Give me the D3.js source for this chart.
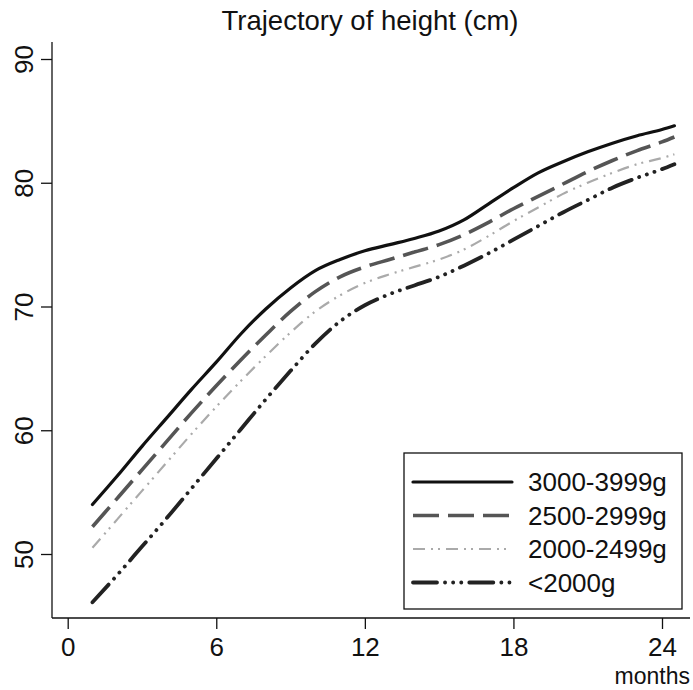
<!DOCTYPE html>
<html>
<head>
<meta charset="utf-8">
<script src="https://cdn.jsdelivr.net/npm/d3@7"></script>
<style>
  body { margin: 0; background: #fff; }
  text { font-family: "Liberation Sans", Arial, sans-serif; fill: #111; }
</style>
</head>
<body>
<svg id="chart" width="693" height="690"></svg>
<script>
// months at which the trajectories are read
var months = [1, 2, 3, 4, 5, 6, 7, 8, 9, 10, 11, 12, 13, 14, 15, 16, 17, 18, 19, 20, 21, 22, 23, 24, 24.5];

// height (cm) per birth-weight group
var h3000 = [54.0, 56.3, 58.7, 61.0, 63.3, 65.5, 67.8, 69.8, 71.5, 72.9, 73.8, 74.5, 75.0, 75.5, 76.1, 77.0, 78.3, 79.6, 80.8, 81.7, 82.5, 83.2, 83.8, 84.3, 84.6];
var h2500 = [52.2, 54.5, 56.8, 59.1, 61.4, 63.6, 65.7, 67.7, 69.6, 71.2, 72.4, 73.2, 73.8, 74.4, 75.0, 75.8, 76.8, 77.9, 78.9, 79.9, 80.9, 81.8, 82.6, 83.3, 83.7];
var h2000 = [50.5, 52.8, 55.1, 57.4, 59.7, 61.9, 64.0, 66.0, 67.9, 69.6, 70.9, 71.9, 72.6, 73.2, 73.8, 74.6, 75.7, 76.9, 78.0, 79.1, 80.0, 80.8, 81.5, 82.0, 82.3];
var h1999 = [46.1, 48.3, 50.6, 52.9, 55.3, 57.7, 60.1, 62.5, 64.8, 67.0, 68.8, 70.1, 71.0, 71.7, 72.4, 73.3, 74.3, 75.4, 76.5, 77.6, 78.6, 79.6, 80.4, 81.1, 81.5];

var groupLabels = ["3000-3999g", "2500-2999g", "2000-2499g", "<2000g"];
var xTicks = [0, 6, 12, 18, 24];
var yTicks = [50, 60, 70, 80, 90];

var svg = d3.select("#chart");

var x = d3.scaleLinear().domain([0, 24]).range([67.7, 662]);
var y = d3.scaleLinear().domain([50, 90]).range([554, 59]);

var left = 52, bottom = 618;
var font = "'Liberation Sans', Arial, sans-serif";

// styles for each group
var styles = [
  {color: "#111", width: 3.2, dash: null, cap: "round"},
  {color: "#555", width: 3.6, dash: "26,9", cap: "butt"},
  {color: "#aaa", width: 2.2, dash: "12,6,2,5,2,6", cap: "butt"},
  {color: "#222", width: 3.8, dash: "24,8,0.1,8,0.1,8,0.1,8", cap: "round"}
];
var series = [h3000, h2500, h2000, h1999];

// axes
svg.append("line").attr("x1", left).attr("x2", left).attr("y1", 42).attr("y2", bottom)
  .attr("stroke", "#111").attr("stroke-width", 1.3);
svg.append("line").attr("x1", left).attr("x2", 690).attr("y1", bottom).attr("y2", bottom)
  .attr("stroke", "#111").attr("stroke-width", 1.3);

var xAxis = svg.append("g").attr("transform", "translate(0," + bottom + ")")
  .call(d3.axisBottom(x).tickValues(xTicks).tickSize(11).tickPadding(9).tickFormat(d3.format("d")));
xAxis.select(".domain").remove();
xAxis.selectAll(".tick line").attr("stroke", "#111").attr("stroke-width", 1.3);
xAxis.selectAll(".tick text").style("font-size", "26px").attr("fill", "#111")
  .style("font-family", font);

var yAxis = svg.append("g").attr("transform", "translate(" + left + ",0)")
  .call(d3.axisLeft(y).tickValues(yTicks).tickSize(11).tickFormat(d3.format("d")));
yAxis.select(".domain").remove();
yAxis.selectAll(".tick line").attr("stroke", "#111").attr("stroke-width", 1.3);
yAxis.selectAll(".tick text")
  .attr("x", null).attr("dy", null)
  .attr("transform", "translate(-19,0) rotate(-90)")
  .attr("text-anchor", "middle")
  .attr("fill", "#111")
  .style("font-size", "26px")
  .style("font-family", font);

svg.append("text").attr("x", 690).attr("y", 684).attr("text-anchor", "end")
  .style("font-size", "23px").text("months");

svg.append("text").attr("x", 370).attr("y", 30).attr("text-anchor", "middle")
  .style("font-size", "27.5px").text("Trajectory of height (cm)");

// curves
var line = d3.line()
  .x(function(d) { return x(d[0]); })
  .y(function(d) { return y(d[1]); })
  .curve(d3.curveMonotoneX);

series.forEach(function(s, i) {
  var pts = months.map(function(m, j) { return [m, s[j]]; });
  svg.append("path").datum(pts)
    .attr("d", line)
    .attr("fill", "none")
    .attr("stroke", styles[i].color)
    .attr("stroke-width", styles[i].width)
    .attr("stroke-dasharray", styles[i].dash)
    .attr("stroke-linecap", styles[i].cap);
});

// legend
var legend = svg.append("g");
legend.append("rect").attr("x", 404).attr("y", 453).attr("width", 278).attr("height", 156)
  .attr("fill", "#fff").attr("stroke", "#111").attr("stroke-width", 1.3);

groupLabels.forEach(function(lab, i) {
  var cy = 482 + i * 33.5;
  legend.append("line").attr("x1", 413).attr("x2", 512).attr("y1", cy).attr("y2", cy)
    .attr("stroke", styles[i].color)
    .attr("stroke-width", styles[i].width)
    .attr("stroke-dasharray", styles[i].dash)
    .attr("stroke-linecap", styles[i].cap);
  legend.append("text").attr("x", 528).attr("y", cy + 9)
    .style("font-size", "26px").text(lab);
});
</script>
</body>
</html>
